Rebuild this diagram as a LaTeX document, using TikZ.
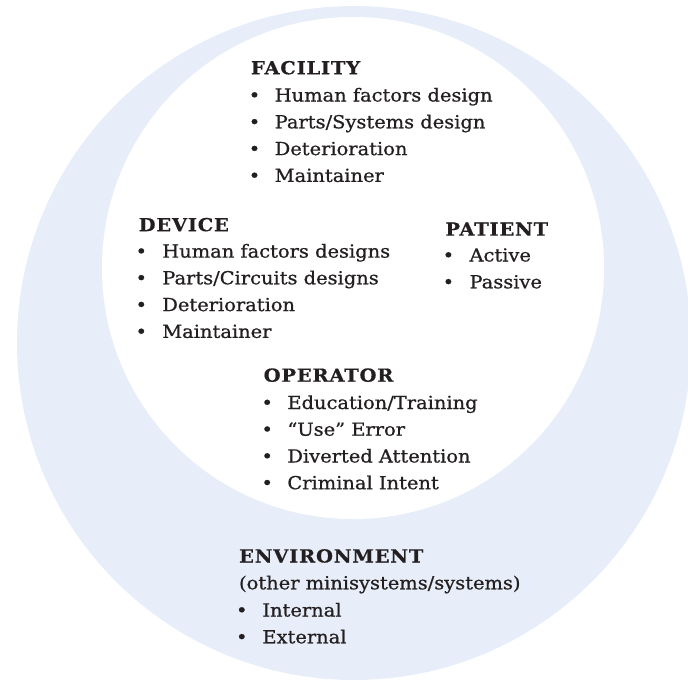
\documentclass[tikz,border=0pt]{standalone}
\usepackage{fontspec}
\setmainfont{DejaVu Serif}[FakeStretch=1.08, FakeBold=0.8]
\newfontfamily\headfont{DejaVu Serif Bold}[FakeStretch=1.08, FakeBold=0.5, LetterSpace=4.5]
\definecolor{ringblue}{RGB}{232,238,249}
\definecolor{inktext}{RGB}{35,31,32}
\tikzset{
  txt/.style={anchor=base west, inner sep=0pt, outer sep=0pt, text=inktext, font=\fontsize{18}{22}\selectfont},
  head/.style={txt, font=\fontsize{18}{22}\headfont},
  dot/.style={anchor=base, inner sep=0pt, outer sep=0pt, text=inktext, font=\fontsize{18}{22}\selectfont}
}
\begin{document}
\begin{tikzpicture}[x=1pt,y=-1pt]
\useasboundingbox (0,0) rectangle (688,681);
\fill[ringblue] (354,343) circle[radius=337];
\fill[white] (353,268) circle[radius=251];
% FACILITY
\node[head] (fach) at (251,74.3) {FACILITY};
\node[dot] (facb1) at (254.5,101.5) {•};
\node[txt] (fac1) at (274.7,101.5) {Human factors design};
\node[dot] (facb2) at (254.5,128.3) {•};
\node[txt] (fac2) at (274.7,128.3) {Parts/Systems design};
\node[dot] (facb3) at (254.5,155.1) {•};
\node[txt] (fac3) at (274.7,155.1) {Deterioration};
\node[dot] (facb4) at (254.5,181.9) {•};
\node[txt] (fac4) at (274.7,181.9) {Maintainer};
% DEVICE
\node[head] (devh) at (138.7,231.2) {DEVICE};
\node[dot] (devb1) at (141.3,257.6) {•};
\node[txt] (dev1) at (162.3,257.6) {Human factors designs};
\node[dot] (devb2) at (141.3,284.3) {•};
\node[txt] (dev2) at (162.3,284.3) {Parts/Circuits designs};
\node[dot] (devb3) at (141.3,311.1) {•};
\node[txt] (dev3) at (162.3,311.1) {Deterioration};
\node[dot] (devb4) at (141.3,337.9) {•};
\node[txt] (dev4) at (162.3,337.9) {Maintainer};
% PATIENT
\node[head] (path) at (445.4,235.6) {PATIENT};
\node[dot] (patb1) at (448.4,261.5) {•};
\node[txt] (pat1) at (469.5,261.5) {Active};
\node[dot] (patb2) at (448.4,288.3) {•};
\node[txt] (pat2) at (469.5,288.3) {Passive};
% OPERATOR
\node[head] (oph) at (263.7,381.7) {OPERATOR};
\node[dot] (opb1) at (267.2,409) {•};
\node[txt] (op1) at (287.4,409) {Education/Training};
\node[dot] (opb2) at (267.2,435.7) {•};
\node[txt] (op2) at (287.4,435.7) {“Use” Error};
\node[dot] (opb3) at (267.2,462.5) {•};
\node[txt] (op3) at (287.4,462.5) {Diverted Attention};
\node[dot] (opb4) at (267.2,489.2) {•};
\node[txt] (op4) at (287.4,489.2) {Criminal Intent};
% ENVIRONMENT
\node[head] (envh) at (239.1,562.5) {ENVIRONMENT};
\node[txt] (envs) at (239.1,589.3) {(other minisystems/systems)};
\node[dot] (envb1) at (241.8,616.5) {•};
\node[txt] (env1) at (262.4,616.5) {Internal};
\node[dot] (envb2) at (241.8,643.3) {•};
\node[txt] (env2) at (262.4,643.3) {External};
\end{tikzpicture}
\end{document}
